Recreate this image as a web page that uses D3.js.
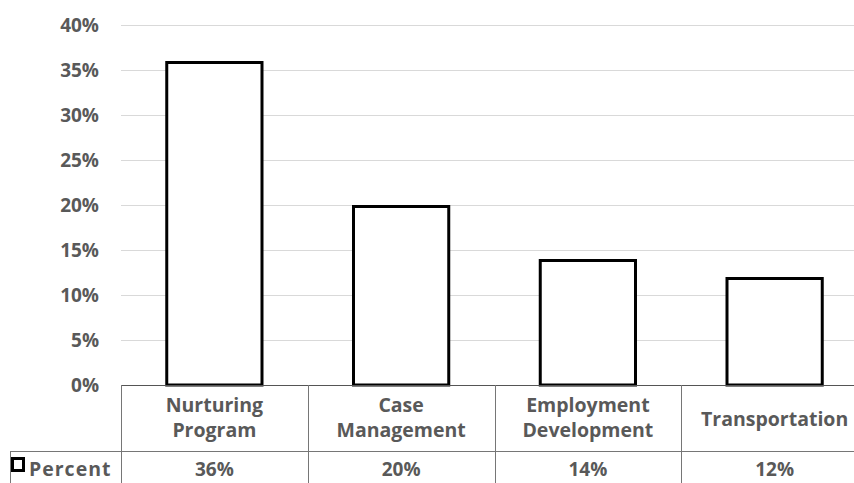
<!DOCTYPE html>
<html><head><meta charset="utf-8">
<script src="https://cdn.jsdelivr.net/npm/d3@7"></script>
<style>body{margin:0;background:#fff}svg{display:block}</style>
</head><body>
<script>
const categories = [["Nurturing","Program"],["Case","Management"],["Employment","Development"],["Transportation"]];
const values = [0.36, 0.20, 0.14, 0.12];
const valueLabels = ["36%","20%","14%","12%"];
const yTicks = [0,0.05,0.10,0.15,0.20,0.25,0.30,0.35,0.40];
const seriesName = "Percent";

const W=854,H=483;
const svg=d3.select("body").append("svg").attr("width",W).attr("height",H);
const font="'Open Sans', 'Noto Sans', sans-serif";
const fs=19;
const gray="#595959";
const x=d3.scaleBand().domain(d3.range(categories.length)).range([121,868]).paddingInner(0).paddingOuter(0);
const y=d3.scaleLinear().domain([0,0.4]).range([385,25]);

// gridlines
svg.append("g").selectAll("line").data(yTicks.slice(1)).join("line")
  .attr("x1",121).attr("x2",W).attr("y1",d=>Math.round(y(d))+0.5).attr("y2",d=>Math.round(y(d))+0.5)
  .attr("stroke","#d9d9d9").attr("stroke-width",1);

// y axis labels
const yAxis=d3.axisLeft(y).tickValues(yTicks).tickFormat(d3.format(".0%")).tickSize(0).tickPadding(0);
const ga=svg.append("g").attr("transform","translate(99,0)").call(yAxis);
ga.select(".domain").remove();
ga.selectAll("text").attr("font-family",font).attr("font-size",fs).attr("font-weight","bold").attr("fill",gray).attr("dy",null).attr("y",6.5);

// bars
const bw=x.bandwidth()*0.51;
svg.append("g").selectAll("rect").data(values).join("rect")
  .attr("x",(d,i)=>x(i)+x.bandwidth()/2-bw/2).attr("y",d=>y(d)+1.5)
  .attr("width",bw).attr("height",d=>y(0)-y(d)-1.5)
  .attr("fill","#fff").attr("stroke","#000").attr("stroke-width",3);

// table lines
const tg=svg.append("g").attr("stroke","#767676").attr("stroke-width",1);
tg.append("line").attr("x1",121).attr("x2",W).attr("y1",385.5).attr("y2",385.5).attr("stroke","#555");
tg.append("line").attr("x1",10).attr("x2",W).attr("y1",451.5).attr("y2",451.5);
tg.append("line").attr("x1",10.5).attr("x2",10.5).attr("y1",451).attr("y2",H);
tg.selectAll(".v").data(d3.range(categories.length+1)).join("line").attr("class","v")
  .attr("x1",i=>Math.round(i<categories.length?x(i):868)+0.5).attr("x2",i=>Math.round(i<categories.length?x(i):868)+0.5)
  .attr("y1",385).attr("y2",H);

// category labels
const cg=svg.append("g");
categories.forEach((c,i)=>{
  const cx=x(i)+x.bandwidth()/2;
  const t=cg.append("text").attr("x",cx).attr("text-anchor","middle").attr("font-family",font)
    .attr("font-size",19.5).attr("font-weight","bold").attr("fill",gray);
  if(c.length===1){t.append("tspan").attr("x",cx).attr("y",426).text(c[0]);}
  else{t.append("tspan").attr("x",cx).attr("y",412).text(c[0]);t.append("tspan").attr("x",cx).attr("y",437).text(c[1]);}
});

// value row
svg.append("g").selectAll("text").data(valueLabels).join("text")
  .attr("x",(d,i)=>x(i)+x.bandwidth()/2).attr("y",476).attr("text-anchor","middle")
  .attr("font-family",font).attr("font-size",fs).attr("font-weight","bold").attr("fill",gray).text(d=>d);

// legend key
svg.append("rect").attr("x",12.5).attr("y",458.5).attr("width",11).attr("height",12).attr("fill","#fff").attr("stroke","#000").attr("stroke-width",3);
svg.append("text").attr("x",29).attr("y",476).attr("font-family",font).attr("font-size",19.5).attr("font-weight","bold").attr("fill",gray).attr("letter-spacing",1).text(seriesName);
</script>
</body></html>
